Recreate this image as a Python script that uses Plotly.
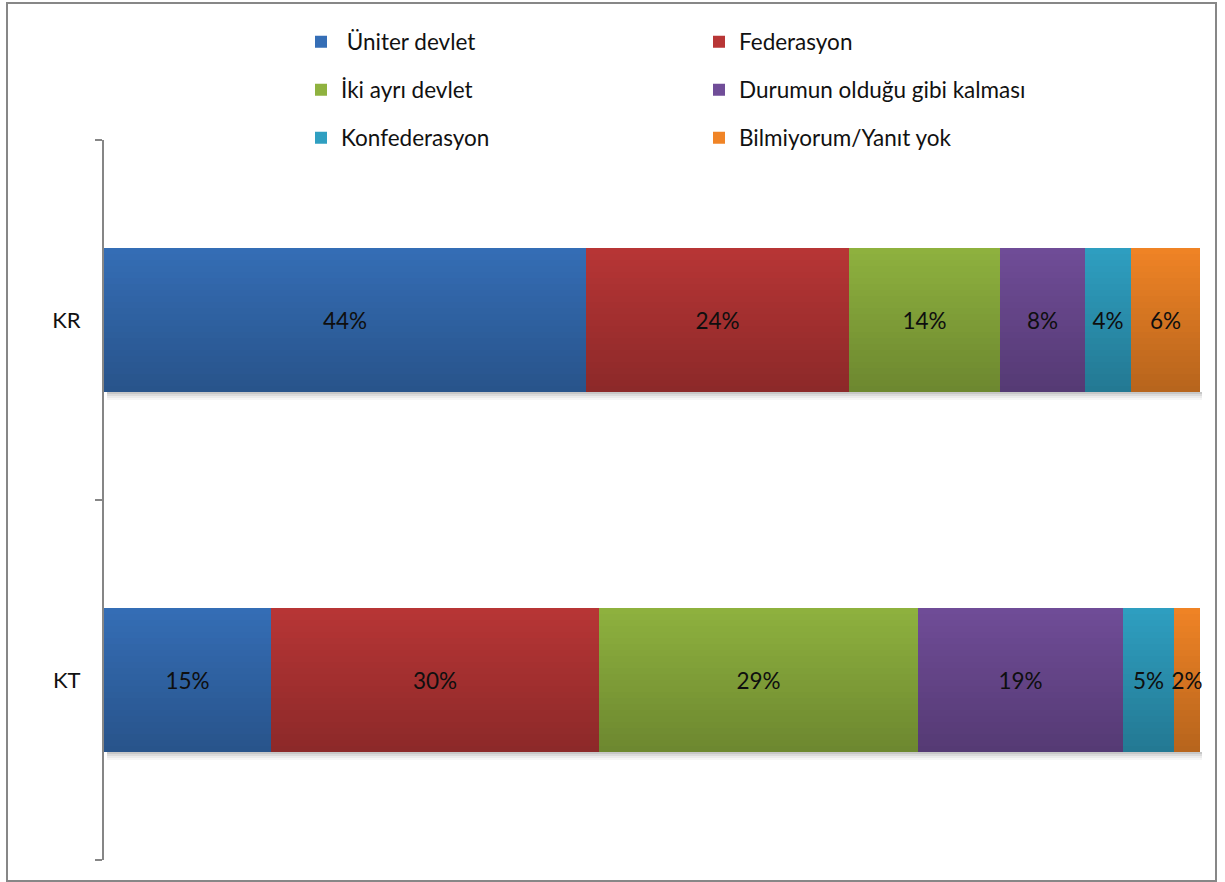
import plotly.graph_objects as go
import numpy as np

# ---- data ----
categories = ["KR", "KT"]
series_names = ["\u00a0Üniter devlet", "Federasyon", "İki ayrı devlet",
                "Durumun olduğu gibi kalması", "Konfederasyon", "Bilmiyorum/Yanıt yok"]
kr_values = [44.0, 24.0, 13.8, 7.7, 4.2, 6.3]
kt_values = [15.2, 30.0, 29.1, 18.7, 4.7, 2.3]

# ---- style ----
colors = ["#356EB6", "#B83636", "#8FB23F", "#704D98", "#2F9FC1", "#F08426"]
legend_ids = ["legend", "legend", "legend2", "legend2", "legend3", "legend3"]
FONT = "Lato, 'Open Sans', sans-serif"
W, H = 1225, 882
ML, MR, MT, MB = 104, 21, 140, 22
PW, PH = W - ML - MR, H - MT - MB
BARW = 0.4

vals = np.array([kr_values, kt_values])          # rows: categories
bases = np.cumsum(vals, axis=1) - vals
totals = vals.sum(axis=1)

fig = go.Figure()

# soft shadow under bars
hs = 2 / 360
for j, a in enumerate([0.22, 0.14, 0.08, 0.035]):
    fig.add_trace(go.Bar(
        y=categories, x=totals, base=[0.25, 0.25], orientation="h",
        offset=-BARW / 2 - (j + 1) * hs, width=hs,
        marker=dict(color=f"rgba(0,0,0,{a})", line=dict(width=0)),
        showlegend=False, hoverinfo="skip"))

# main bars
for i, name in enumerate(series_names):
    v = vals[:, i]
    fig.add_trace(go.Bar(
        y=categories, x=v, base=bases[:, i], orientation="h",
        name=name, legend=legend_ids[i],
        width=BARW,
        marker=dict(color=colors[i], line=dict(width=0)),
        text=[f"{x:.0f}%" for x in v],
        textposition="inside", insidetextanchor="middle",
        constraintext="none", textangle=0,
        textfont=dict(family=FONT, size=22.5, color="#111111"),
        hoverinfo="skip"))

# vertical gradient (darker towards bottom)
N = 24
h = BARW / N
for k in range(N):
    a = 0.24 * (1 - (k + 0.5) / N)
    fig.add_trace(go.Bar(
        y=categories, x=totals, base=[0, 0], orientation="h",
        offset=-BARW / 2 + k * h, width=h,
        marker=dict(color=f"rgba(0,0,0,{a:.4f})", line=dict(width=0)),
        showlegend=False, hoverinfo="skip"))

def lx(px):
    return (px - ML) / PW

def ly(py):
    return (H - MB - py) / PH

leg_common = dict(orientation="h", xanchor="left", yanchor="middle",
                  font=dict(family=FONT, size=22.5, color="#111111"),
                  bgcolor="rgba(0,0,0,0)", entrywidth=353, entrywidthmode="pixels",
                  itemclick=False, itemdoubleclick=False)

fig.update_layout(
    width=W, height=H,
    margin=dict(l=ML, r=MR, t=MT, b=MB, pad=0),
    paper_bgcolor="white", plot_bgcolor="white",
    barmode="overlay", bargap=0,
    showlegend=True,
    legend=dict(x=lx(301), y=ly(42), **leg_common),
    legend2=dict(x=lx(301), y=ly(90), **leg_common),
    legend3=dict(x=lx(301), y=ly(138), **leg_common),
    xaxis=dict(range=[0, 100.4], visible=False, fixedrange=True),
    yaxis=dict(categoryorder="array", categoryarray=["KT", "KR"],
               range=[-0.5, 1.5], showline=True, linecolor="#868686", linewidth=2,
               ticks="outside", tickson="boundaries", ticklen=7, tickwidth=2,
               tickcolor="#868686", ticklabelstandoff=17, showgrid=False,
               zeroline=False, tickfont=dict(family=FONT, size=22, color="#111111"),
               fixedrange=True),
    shapes=[dict(type="rect", xref="paper", yref="paper",
                 x0=lx(7), x1=lx(1216), y0=ly(881), y1=ly(3),
                 line=dict(color="#878787", width=2), fillcolor="rgba(0,0,0,0)",
                 layer="above")],
)

fig.write_html("out.html", config={"displayModeBar": False},
               post_script="document.body.style.margin='0';document.body.style.overflow='hidden';")
